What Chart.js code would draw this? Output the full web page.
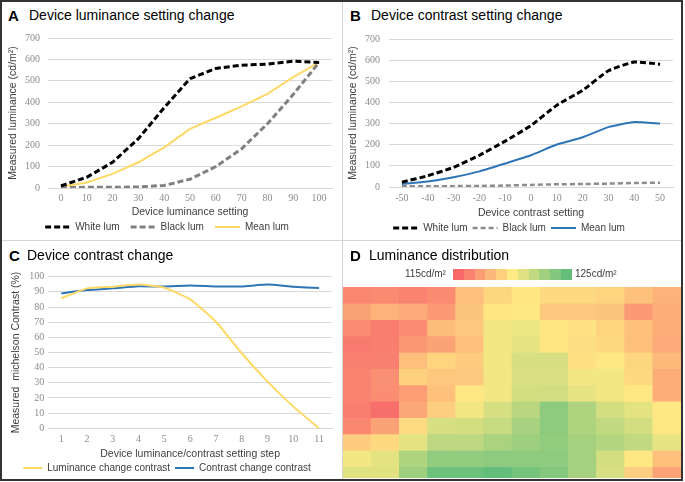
<!DOCTYPE html>
<html>
<head>
<meta charset="utf-8">
<script src="https://cdn.jsdelivr.net/npm/chart.js@4.4.0/dist/chart.umd.min.js"></script>
<style>
body { margin: 0; background: #fff; }
#fig { position: relative; width: 685px; height: 482px; overflow: hidden; font-family: "Liberation Sans", Arial, sans-serif; }
#fig canvas { position: absolute; }
.frame { position: absolute; left: 0; top: 0; width: 679px; height: 477px; border: 2px solid #333; }
.sep { position: absolute; background: #d4d4d4; }
.letter { position: absolute; font-size: 15px; font-weight: bold; line-height: 15px; color: #000; }
.ttl { position: absolute; font-size: 14px; line-height: 15px; color: #000; white-space: nowrap; }
.cb { position: absolute; font-size: 10px; line-height: 12px; color: #404040; white-space: nowrap; }
#swatches { position: absolute; left: 453px; top: 269px; height: 11px; display: flex; }
#swatches span { display: block; width: 10.8px; height: 11px; }
</style>
</head>
<body>
<div id="fig">
  <canvas id="chartA" width="340" height="218" style="left:2px;top:24px"></canvas>
  <canvas id="chartB" width="338" height="219" style="left:345px;top:24px"></canvas>
  <canvas id="chartC" width="340" height="219" style="left:2px;top:264px"></canvas>
  <canvas id="chartD" width="338" height="191" style="left:343px;top:287px"></canvas>

  <div class="letter" style="left:8px;top:8px">A</div>
  <div class="ttl" style="left:29px;top:8px">Device luminance setting change</div>
  <div class="letter" style="left:350px;top:8px">B</div>
  <div class="ttl" style="left:371px;top:8px">Device contrast setting change</div>
  <div class="letter" style="left:9px;top:248px">C</div>
  <div class="ttl" style="left:27px;top:248px">Device contrast change</div>
  <div class="letter" style="left:350px;top:248px">D</div>
  <div class="ttl" style="left:369px;top:248px">Luminance distribution</div>

  <div class="cb" style="left:405px;top:268px">115cd/m²</div>
  <div id="swatches"></div>
  <div class="cb" style="left:575px;top:268px">125cd/m²</div>

  <div class="sep" style="left:342px;top:2px;width:1px;height:477px"></div>
  <div class="sep" style="left:2px;top:240px;width:679px;height:1px"></div>
  <div class="frame"></div>
</div>
<script>
// panel A - device luminance setting
const lumSteps = ['0', '10', '20', '30', '40', '50', '60', '70', '80', '90', '100'];
const whiteLumA = [10, 50, 120, 230, 375, 510, 558, 573, 578, 592, 586];
const blackLumA = [2, 3, 3, 5, 12, 41, 100, 183, 300, 437, 586];
const meanLumA = [5, 26, 66, 120, 190, 276, 328, 381, 439, 517, 586];

// panel B - device contrast setting
const contrastSteps = ['-50', '-40', '-30', '-20', '-10', '0', '10', '20', '30', '40', '50'];
const whiteLumB = [23, 53, 93, 150, 217, 291, 387, 457, 550, 591, 581];
const blackLumB = [3, 3, 4, 5, 7, 10, 13, 14, 16, 19, 20];
const meanLumB = [14, 26, 46, 74, 111, 150, 201, 235, 283, 307, 300];

// panel C - michelson contrast per step
const settingSteps = ['1', '2', '3', '4', '5', '6', '7', '8', '9', '10', '11'];
const lumChangeContrast = [85.7, 92.3, 93.4, 94.8, 92.7, 85, 70.3, 49.5, 30.8, 14.3, 0];
const contrastChangeContrast = [89, 91.2, 92.3, 93.7, 93.5, 94.2, 93.6, 93.6, 94.8, 93.4, 92.5];

// panel D - luminance map (cd/m2), top row first
const heatCols = ['1', '2', '3', '4', '5', '6', '7', '8', '9', '10', '11', '12'];
const heatRows = [
  [116.2, 116.3, 116.0, 116.3, 118.3, 119.2, 119.8, 119.3, 119.3, 119.1, 118.4, 117.8],
  [117.2, 117.8, 117.5, 116.9, 118.5, 119.8, 119.9, 118.6, 118.6, 118.5, 116.9, 117.6],
  [116.4, 115.8, 116.4, 118.2, 118.6, 120.4, 120.6, 119.8, 119.7, 119.1, 118.4, 117.6],
  [115.7, 115.8, 116.8, 117.2, 118.3, 120.4, 120.8, 119.8, 119.5, 119.3, 118.4, 117.5],
  [115.9, 115.9, 118.3, 119.1, 118.8, 120.4, 121.3, 121.3, 119.6, 119.9, 119.2, 118.1],
  [116.0, 116.5, 119.0, 118.6, 118.7, 120.4, 121.2, 121.2, 120.4, 120.4, 119.3, 117.6],
  [116.0, 116.4, 117.0, 118.4, 119.9, 120.4, 121.4, 121.5, 120.8, 120.4, 119.9, 117.6],
  [115.8, 115.2, 117.4, 118.9, 120.4, 121.3, 122.2, 123.6, 122.6, 121.4, 120.9, 119.9],
  [116.2, 117.2, 119.4, 121.3, 121.4, 121.8, 122.8, 123.6, 122.6, 122.0, 121.4, 119.9],
  [118.8, 119.3, 120.9, 122.1, 122.1, 122.7, 123.1, 123.5, 122.9, 122.4, 122.0, 120.8],
  [120.4, 120.9, 122.6, 123.5, 123.5, 123.6, 123.6, 123.6, 122.9, 121.4, 119.9, 118.4],
  [121.0, 121.0, 123.1, 124.7, 124.7, 125.0, 124.4, 123.9, 122.9, 121.3, 118.9, 117.2]
];
const scaleSteps = [115, 116, 117, 118, 119, 120, 121, 122, 123, 124, 125];

// excel style red - yellow - green colour scale
function heatColor(v) {
  const lo = [248, 105, 107], mid = [255, 235, 132], hi = [99, 190, 123];
  let t = Math.max(0, Math.min(1, (v - 115) / 10));
  let a = lo, b = mid;
  if (t > 0.5) { a = mid; b = hi; t = (t - 0.5) * 2; } else { t = t * 2; }
  const c = a.map((x, i) => Math.round(x + (b[i] - x) * t));
  return `rgb(${c[0]},${c[1]},${c[2]})`;
}

scaleSteps.forEach(v => {
  const s = document.createElement('span');
  s.style.background = heatColor(v);
  document.getElementById('swatches').appendChild(s);
});

const tickFont = { family: 'Liberation Serif', size: 10 };
const labelFont = { family: 'Liberation Sans', size: 10.5 };

// legend entries keep the dash of each line
function lineLegend(chart) {
  return chart.data.datasets.map((ds, i) => ({
    text: ds.label,
    strokeStyle: ds.borderColor,
    fillStyle: ds.borderColor,
    lineWidth: ds.borderWidth,
    lineDash: ds.borderDash || [],
    pointStyle: 'line',
    fontColor: '#404040',
    hidden: false,
    datasetIndex: i
  }));
}

function lineChart(id, p) {
  return new Chart(document.getElementById(id), {
    type: 'line',
    data: { labels: p.labels, datasets: p.datasets },
    options: {
      responsive: false,
      animation: false,
      layout: { padding: { top: p.top, right: p.right, left: 0, bottom: 0 } },
      elements: { point: { radius: 0 }, line: { tension: p.tension } },
      plugins: {
        legend: {
          position: 'bottom',
          labels: {
            usePointStyle: true,
            pointStyleWidth: p.boxW,
            padding: p.legendPad,
            color: '#404040',
            font: { family: 'Liberation Sans', size: 10 },
            generateLabels: lineLegend
          }
        },
        tooltip: { enabled: false }
      },
      scales: {
        x: {
          offset: true,
          grid: { display: false, drawTicks: false },
          border: { display: true, color: '#d9d9d9' },
          ticks: { color: '#8c8c8c', font: tickFont, padding: p.xTickPad, maxRotation: 0, autoSkip: false },
          title: { display: true, text: p.xTitle, color: '#404040', font: labelFont, padding: { top: 0, bottom: p.xTitlePad } },
          afterFit: s => { s.height = p.xHeight; }
        },
        y: {
          min: 0, max: p.yMax,
          ticks: { stepSize: p.yStep, color: '#8c8c8c', font: tickFont, padding: p.yTickPad },
          grid: { color: '#d9d9d9', drawTicks: false },
          border: { display: false },
          title: { display: true, text: p.yTitle, color: '#404040', font: labelFont, padding: { top: p.yTitlePad, bottom: 0 } },
          afterFit: s => { s.width = p.yWidth; }
        }
      }
    }
  });
}

lineChart('chartA', {
  labels: lumSteps,
  datasets: [
    { label: 'White lum', data: whiteLumA, borderColor: '#000', borderWidth: 3, borderDash: [6, 3] },
    { label: 'Black lum', data: blackLumA, borderColor: '#808080', borderWidth: 3, borderDash: [6, 3] },
    { label: 'Mean lum', data: meanLumA, borderColor: '#ffd966', borderWidth: 2 }
  ],
  top: 12, right: 10, tension: 0,
  boxW: 25, legendPad: 11,
  xTickPad: 4, xTitle: 'Device luminance setting', xTitlePad: -7, xHeight: 23,
  yMax: 700, yStep: 100, yTickPad: 8, yTitle: 'Measured luminance (cd/m²)', yTitlePad: 4.4, yWidth: 46
});

lineChart('chartB', {
  labels: contrastSteps,
  datasets: [
    { label: 'White lum', data: whiteLumB, borderColor: '#000', borderWidth: 3, borderDash: [6, 3] },
    { label: 'Black lum', data: blackLumB, borderColor: '#8c8c8c', borderWidth: 2.5, borderDash: [5, 3] },
    { label: 'Mean lum', data: meanLumB, borderColor: '#2e75b6', borderWidth: 2 }
  ],
  top: 12, right: 10, tension: 0.15,
  boxW: 25, legendPad: 5,
  xTickPad: 5, xTitle: 'Device contrast setting', xTitlePad: -1.6, xHeight: 31,
  yMax: 700, yStep: 100, yTickPad: 9, yTitle: 'Measured luminance (cd/m²)', yTitlePad: 1.7, yWidth: 44
});

lineChart('chartC', {
  labels: settingSteps,
  datasets: [
    { label: 'Luminance change contrast', data: lumChangeContrast, borderColor: '#ffd966', borderWidth: 2 },
    { label: 'Contrast change contrast', data: contrastChangeContrast, borderColor: '#2e75b6', borderWidth: 2 }
  ],
  top: 12.7, right: 10, tension: 0.15,
  boxW: 19, legendPad: 5,
  xTickPad: 5, xTitle: 'Device luminance/contrast setting step', xTitlePad: -2.6, xHeight: 29.7,
  yMax: 100, yStep: 10, yTickPad: 4, yTitle: 'Measured  michelson Contrast (%)', yTitlePad: 7.4, yWidth: 46.3
});

// heat map: one floating bar dataset per row
new Chart(document.getElementById('chartD'), {
  type: 'bar',
  data: {
    labels: heatCols,
    datasets: heatRows.map((row, r) => ({
      data: row.map(() => [r, r + 1]),
      backgroundColor: row.map(heatColor),
      borderWidth: 0,
      grouped: false,
      barPercentage: 1,
      categoryPercentage: 1
    }))
  },
  options: {
    responsive: false,
    animation: false,
    layout: { padding: 0 },
    plugins: { legend: { display: false }, tooltip: { enabled: false } },
    scales: {
      x: { display: false },
      y: { display: false, reverse: true, min: 0, max: 11.7 }
    }
  }
});
</script>
</body>
</html>
